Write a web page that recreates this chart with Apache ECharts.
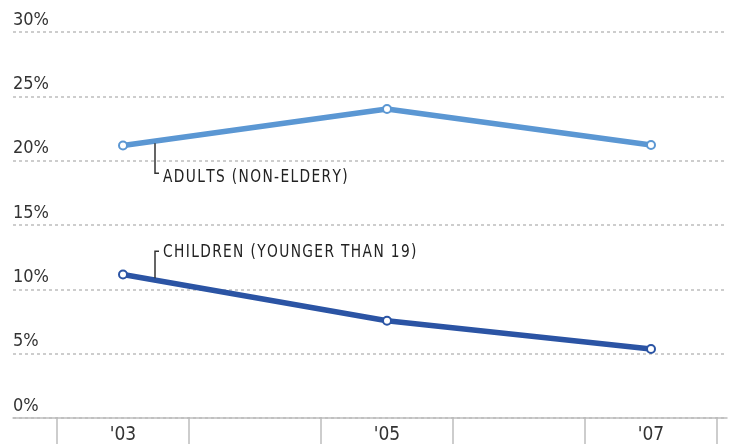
<!DOCTYPE html>
<html>
<head>
<meta charset="utf-8">
<script src="https://cdn.jsdelivr.net/npm/echarts@6/dist/echarts.min.js"></script>
<style>
html,body{margin:0;padding:0;background:#fff;}
#chart{width:731px;height:445px;}
</style>
</head>
<body>
<div id="chart"></div>
<script>
const categories = ["'03", "'04", "'05", "'06", "'07"];
const adults = [21.15, null, 24.0, null, 21.2];
const children = [11.1, null, 7.5, null, 5.3];
const yTicks = [0, 5, 10, 15, 20, 25, 30];
const adultsLabel = 'ADULTS (NON-ELDERY)';
const childrenLabel = 'CHILDREN (YOUNGER THAN 19)';

const FONT = '"DejaVu Sans Condensed", "Liberation Sans Narrow", sans-serif';
const chart = echarts.init(document.getElementById('chart'));
const TOP = 32, BOTTOM = 445 - 418;

const option = {
  animation: false,
  grid: [
    {left: 57, right: 14, top: TOP, bottom: BOTTOM},
    {left: 13, right: 4, top: TOP, bottom: BOTTOM}
  ],
  xAxis: [
    {
      type: 'category', gridIndex: 0, data: categories, boundaryGap: true,
      axisLine: {show: false},
      axisTick: {show: true, interval: 0, length: 27, inside: false, lineStyle: {color: '#bdbdbd', width: 1.5}},
      axisLabel: {
        interval: 0, margin: 9, color: '#333', fontFamily: FONT, fontSize: 19,
        formatter: (v, i) => (i % 2 === 0 ? v : '')
      }
    },
    {
      type: 'value', gridIndex: 1, min: 0, max: 1,
      axisLine: {show: true, lineStyle: {color: '#bdbdbd', width: 1.5}},
      axisTick: {show: false}, axisLabel: {show: false}, splitLine: {show: false}
    }
  ],
  yAxis: [
    {
      type: 'value', gridIndex: 0, min: yTicks[0], max: yTicks[yTicks.length - 1], interval: 5,
      axisLine: {show: false}, axisTick: {show: false}, axisLabel: {show: false}, splitLine: {show: false}
    },
    {
      type: 'value', gridIndex: 1, min: yTicks[0], max: yTicks[yTicks.length - 1], interval: 5,
      axisLine: {show: false}, axisTick: {show: false},
      axisLabel: {
        inside: true, margin: 0, formatter: '{value}%', color: '#333',
        fontFamily: FONT, fontSize: 18, verticalAlign: 'bottom', lineHeight: 18, padding: [0, 0, 3, 0]
      },
      splitLine: {show: true, lineStyle: {color: '#bdbdbd', type: [3, 3], width: 1.5}}
    }
  ],
  series: [
    {
      name: 'Adults', type: 'line', xAxisIndex: 0, yAxisIndex: 0, data: adults, connectNulls: true,
      z: 5,
      lineStyle: {color: '#5b97d3', width: 5.5},
      symbol: 'circle', symbolSize: 8,
      itemStyle: {color: '#fff', borderColor: '#5b97d3', borderWidth: 2}
    },
    {
      name: 'Children', type: 'line', xAxisIndex: 0, yAxisIndex: 0, data: children, connectNulls: true,
      z: 5,
      lineStyle: {color: '#2b54a4', width: 5.5},
      symbol: 'circle', symbolSize: 8,
      itemStyle: {color: '#fff', borderColor: '#2b54a4', borderWidth: 2}
    }
  ]
};
chart.setOption(option);

function annotate() {
  const p0 = chart.convertToPixel({xAxisIndex: 0, yAxisIndex: 0}, [0, adults[0]]);
  const p2 = chart.convertToPixel({xAxisIndex: 0, yAxisIndex: 0}, [2, adults[2]]);
  const c0 = chart.convertToPixel({xAxisIndex: 0, yAxisIndex: 0}, [0, children[0]]);
  const c2 = chart.convertToPixel({xAxisIndex: 0, yAxisIndex: 0}, [2, children[2]]);
  const lx = p0[0] + 32;
  const t = (lx - p0[0]) / (p2[0] - p0[0]);
  const ay = p0[1] + (p2[1] - p0[1]) * t;
  const cy = c0[1] + (c2[1] - c0[1]) * t;
  const lineStyle = {stroke: '#333', lineWidth: 1.5};
  const textStyle = {fill: '#222', font: '18px ' + FONT, verticalAlign: 'middle', align: 'left'};
  const spaced = s => s.split('').join('\u200A');
  chart.setOption({
    graphic: [
      {type: 'polyline', shape: {points: [[lx, ay + 2], [lx, ay + 32], [lx + 4, ay + 32]]}, style: lineStyle, z: 10},
      {type: 'text', x: lx + 8, y: ay + 36, scaleX: 0.85, style: Object.assign({text: spaced(adultsLabel)}, textStyle), z: 10},
      {type: 'polyline', shape: {points: [[lx, cy - 2], [lx, cy - 29], [lx + 4, cy - 29]]}, style: lineStyle, z: 10},
      {type: 'text', x: lx + 8, y: cy - 28, scaleX: 0.85, style: Object.assign({text: spaced(childrenLabel)}, textStyle), z: 10}
    ]
  });
}
annotate();
</script>
</body>
</html>
